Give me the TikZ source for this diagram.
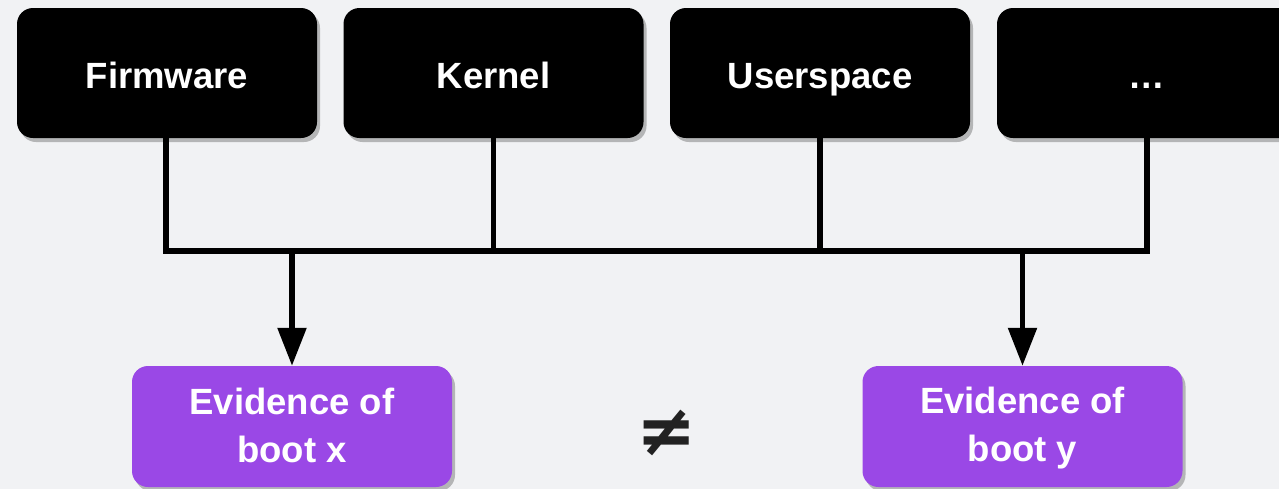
\documentclass[tikz,border=0pt]{standalone}
\usepackage{fontspec}
\setmainfont{Liberation Sans}
\newfontfamily\symfont{DejaVu Sans}
\usetikzlibrary{shadows,arrows.meta}
\definecolor{bg}{HTML}{F1F2F4}
\definecolor{evp}{HTML}{9A48E6}
\definecolor{neq}{HTML}{222222}
\newcommand\evstrut{\rule[-7pt]{0pt}{37pt}}
\begin{document}
\begin{tikzpicture}[x=1pt,y=-1pt,
  stagebox/.style={fill=black, text=white, rounded corners=16pt,
    minimum width=300pt, minimum height=130pt, inner sep=0pt,
    text height=36pt, text depth=6pt,
    font=\fontsize{36.5}{44}\selectfont\bfseries,
    drop shadow={shadow xshift=3pt, shadow yshift=-4pt, opacity=0.25, fill=black}},
  evbox/.style={fill=evp, text=white, rounded corners=16pt,
    minimum width=320pt, minimum height=121pt, inner sep=0pt, align=center,
    font=\fontsize{36.5}{48}\selectfont\bfseries,
    drop shadow={shadow xshift=3pt, shadow yshift=-4pt, opacity=0.25, fill=black}},
  wire/.style={line width=5.5pt, black, line join=miter},
  arrowwire/.style={wire, -{Triangle[length=38pt, width=28pt]}}
]
\useasboundingbox (0,0) rectangle (1279,488);
\clip (0,0) rectangle (1279,488);
\fill[bg] (-5,-5) rectangle (1285,495);

\node[stagebox] (fw) at (167,73) {Firmware};
\node[stagebox] (kn) at (493.5,73) {Kernel};
\node[stagebox] (us) at (820,73) {Userspace};
\node[stagebox] (more) at (1147,73) {…};

\node[evbox] (evx) at (292,426.5) {Evidence of\evstrut\\boot x\evstrut};
\node[evbox] (evy) at (1022.5,426.5) {Evidence of\evstrut\\boot y\evstrut};

\node[text=neq, font=\symfont\bfseries\fontsize{72}{72}\selectfont] (ne) at (667,433) {≠};

\coordinate (busL) at (166,251);
\coordinate (busR) at (1147,251);

\draw[wire] (busL |- fw.south) -- (busL) -- (busR) -- (more.south);
\draw[wire] (kn.south) -- (kn.south |- busL);
\draw[wire] (us.south) -- (us.south |- busL);

\draw[arrowwire] (evx.north |- busL) -- (evx.north);
\draw[arrowwire] (evy.north |- busL) -- (evy.north);
\end{tikzpicture}
\end{document}
